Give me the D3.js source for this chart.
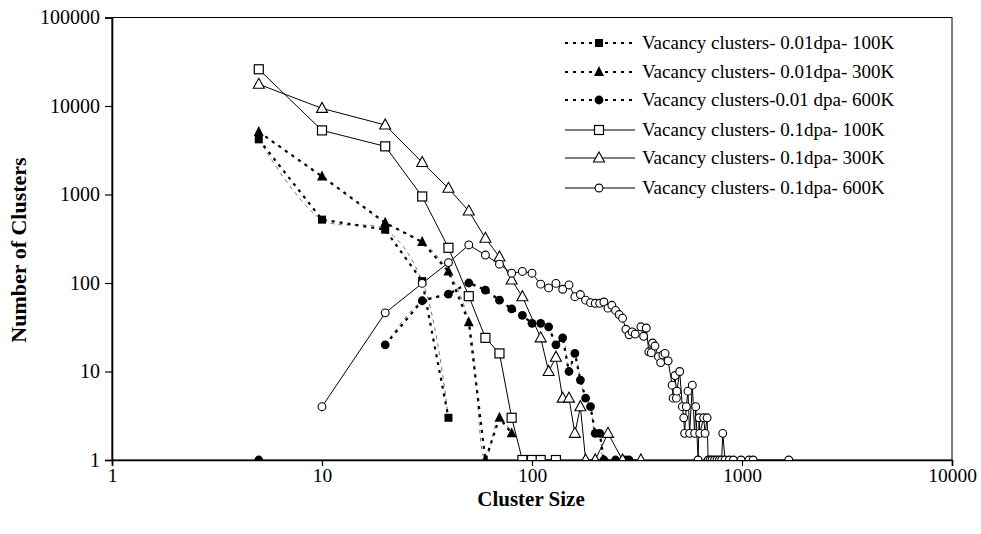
<!DOCTYPE html>
<html><head><meta charset="utf-8">
<script src="https://cdn.jsdelivr.net/npm/d3@7"></script>
<style>
body{margin:0;background:#fff}
text{font-family:"Liberation Serif","Times New Roman",serif;fill:#000}
</style>
</head><body>
<svg id="c" width="981" height="534"></svg>
<script>
// ---- data ----
const xTicks = [1, 10, 100, 1000, 10000];
const yTicks = [1, 10, 100, 1000, 10000, 100000];
const seriesNames = [
  "Vacancy clusters- 0.01dpa- 100K",
  "Vacancy clusters- 0.01dpa- 300K",
  "Vacancy clusters-0.01 dpa- 600K",
  "Vacancy clusters- 0.1dpa- 100K",
  "Vacancy clusters- 0.1dpa- 300K",
  "Vacancy clusters- 0.1dpa- 600K"
];
const xA = [5, 10, 20, 30, 40];
const yA = [4200, 520, 400, 105, 3];
const xB = [5, 10, 20, 30, 40, 50, 60, 70, 80];
const yB = [5100, 1600, 480, 290, 135, 36, 1, 3, 2];
const xC = [5, 10, 20, 30, 40, 50, 60, 70, 80, 90, 100, 110, 120, 130, 140, 150, 160, 170, 180, 190, 200, 210, 220, 250, 280, 290];
const yC = [1, null, 20, 63, 75, 100, 83, 64, 51, 43, 35, 35, 32, 20, 24, 10, 16, 8, 5, 4, 2, 2, 1, 1, 1, 1];
const xD = [5, 10, 20, 30, 40, 50, 60, 70, 80, 90, 100, 110, 130];
const yD = [26000, 5300, 3500, 950, 250, 71, 24, 16, 3, 1, 1, 1, 1];
const xE = [5, 10, 20, 30, 40, 50, 60, 70, 80, 90, 110, 120, 130, 140, 150, 160, 170, 180, 200, 230, 270, 330];
const yE = [17600, 9400, 6100, 2300, 1175, 650, 320, 197, 108, 70, 24, 10, 14.5, 5, 5, 2, 4, 1, 1, 2, 1, 1];
const xF = [10, 20, 30, 40, 50, 60, 70, 80, 90, 100, 110, 120, 130, 140, 150, 160, 170, 180, 190, 200,
  210, 220, 230, 240, 250, 260, 270, 280, 290, 300, 310, 330, 340, 350, 360, 370, 375, 385, 400, 410,
  420, 430, 445, 465, 470, 480, 487, 490, 505, 520, 528, 533, 543, 553, 563, 580, 595, 602, 618, 625,
  629, 657, 667, 682, 690, 705, 720, 740, 760, 780, 800, 810, 830, 870, 910, 990, 1080, 1130, 1670];
const yF = [4, 46, 99, 170, 269, 207, 163, 129, 135, 129, 97, 88, 99, 85, 95, 70, 74, 64, 60, 59,
  59, 61, 52, 56, 49, 44, 40, 30, 26, 28, 26.5, 32, 25, 31, 16.7, 16.3, 21, 19.4, 14.7, 12.6,
  15.4, 16, 13.2, 7, 5, 9, 5, 6, 10, 4, 3, 2, 4, 6, 2, 7, 2, 4, 1, 3,
  2, 3, 2, 3, 1, 1, 1, 1, 1, 1, 1, 2, 1, 1, 1, 1, 1, 1, 1];

// ---- config ----
const series = [
  {name: seriesNames[0], xs: xA, ys: yA, marker: "sqFill", dotted: true},
  {name: seriesNames[1], xs: xB, ys: yB, marker: "triFill", dotted: true},
  {name: seriesNames[2], xs: xC, ys: yC, marker: "circFill", dotted: true},
  {name: seriesNames[3], xs: xD, ys: yD, marker: "sqOpen", dotted: false},
  {name: seriesNames[4], xs: xE, ys: yE, marker: "triOpen", dotted: false},
  {name: seriesNames[5], xs: xF, ys: yF, marker: "circOpen", dotted: false}
];

const svg = d3.select("#c");
const X0 = 112, X1 = 952, Y0 = 460, Y1 = 17.5;
const x = d3.scaleLog().domain([1, 10000]).range([X0, X1]);
const y = d3.scaleLog().domain([1, 100000]).range([Y0, Y1]);

svg.append("defs").append("clipPath").attr("id", "clip")
  .append("rect").attr("x", X0).attr("y", Y1 - 6).attr("width", X1 - X0).attr("height", Y0 - Y1 + 6);

// frame
svg.append("rect").attr("x", X0).attr("y", Y1).attr("width", X1 - X0).attr("height", Y0 - Y1)
  .attr("fill", "none").attr("stroke", "#000").attr("stroke-width", 1);

// axes
const fmt = d3.format("d");
const yAxis = svg.append("g").attr("transform", `translate(${X0},0)`)
  .call(d3.axisLeft(y).tickValues(yTicks).tickFormat(fmt).tickSize(7).tickPadding(5));
const xAxis = svg.append("g").attr("transform", `translate(0,${Y0})`)
  .call(d3.axisBottom(x).tickValues(xTicks).tickFormat(fmt).tickSize(6).tickPadding(2));
[yAxis, xAxis].forEach(g => {
  g.select(".domain").attr("stroke", "#000").attr("stroke-width", 1.6);
  g.selectAll(".tick line").attr("stroke", "#000").attr("stroke-width", 1.2);
  g.selectAll(".tick text").attr("font-size", 20).attr("font-family", "Liberation Serif");
});
xAxis.selectAll(".tick text").attr("font-size", 19.5);

// titles
svg.append("text").attr("x", 531).attr("y", 506).attr("text-anchor", "middle")
  .attr("font-size", 21).attr("font-weight", "bold").text("Cluster Size");
svg.append("text").attr("transform", "translate(26,250) rotate(-90)").attr("text-anchor", "middle")
  .attr("font-size", 22).attr("font-weight", "bold").text("Number of Clusters");

// markers
function drawMarker(g, type, cx, cy) {
  if (type === "sqFill" || type === "sqOpen") {
    const s = type === "sqFill" ? 8 : 9;
    g.append("rect").attr("x", cx - s / 2).attr("y", cy - s / 2).attr("width", s).attr("height", s)
      .attr("fill", type === "sqFill" ? "#000" : "#fff").attr("stroke", "#000").attr("stroke-width", type === "sqFill" ? 0 : 1.2);
  } else if (type === "triFill" || type === "triOpen") {
    const w = type === "triFill" ? 10 : 11, h = 10;
    g.append("path").attr("d", `M${cx},${cy - h * 0.6}L${cx + w / 2},${cy + h * 0.4}L${cx - w / 2},${cy + h * 0.4}Z`)
      .attr("fill", type === "triFill" ? "#000" : "#fff").attr("stroke", "#000").attr("stroke-width", type === "triFill" ? 0 : 1.1);
  } else {
    const r = type === "circFill" ? 4.4 : 3.9;
    g.append("circle").attr("cx", cx).attr("cy", cy).attr("r", r)
      .attr("fill", type === "circFill" ? "#000" : "#fff").attr("stroke", "#000").attr("stroke-width", type === "circFill" ? 0 : 1.1);
  }
}

const plot = svg.append("g").attr("clip-path", "url(#clip)");
series.forEach(s => {
  const pts = s.xs.map((xv, i) => ({x: xv, y: s.ys[i]}));
  const g = plot.append("g");
  const straight = d3.line().defined(d => d.y != null).x(d => x(d.x)).y(d => y(d.y));
  if (s.dotted) {
    const smooth = d3.line().defined(d => d.y != null).x(d => x(d.x)).y(d => y(d.y)).curve(d3.curveCatmullRom.alpha(0.5));
    g.append("path").attr("d", smooth(pts)).attr("fill", "none").attr("stroke", "#666")
      .attr("stroke-width", 0.9).attr("stroke-dasharray", "4,4");
    g.append("path").attr("d", straight(pts)).attr("fill", "none").attr("stroke", "#000")
      .attr("stroke-width", 2.2).attr("stroke-dasharray", "3,5");
  } else {
    g.append("path").attr("d", straight(pts)).attr("fill", "none").attr("stroke", "#000").attr("stroke-width", 1);
  }
  pts.filter(d => d.y != null).forEach(d => drawMarker(g, s.marker, x(d.x), y(d.y)));
});

// legend
const legYs = [43, 72, 100, 130, 158, 188];
const leg = svg.append("g");
series.forEach((s, i) => {
  const ly = legYs[i];
  const l = leg.append("line").attr("x1", 565).attr("x2", 635).attr("y1", ly).attr("y2", ly).attr("stroke", "#000");
  if (s.dotted) l.attr("stroke-width", 2.2).attr("stroke-dasharray", "3,5");
  else l.attr("stroke-width", 1);
  drawMarker(leg, s.marker, 599, ly);
  leg.append("text").attr("x", 642).attr("y", ly + 6).attr("font-size", 19).text(s.name);
});
</script>
</body></html>
